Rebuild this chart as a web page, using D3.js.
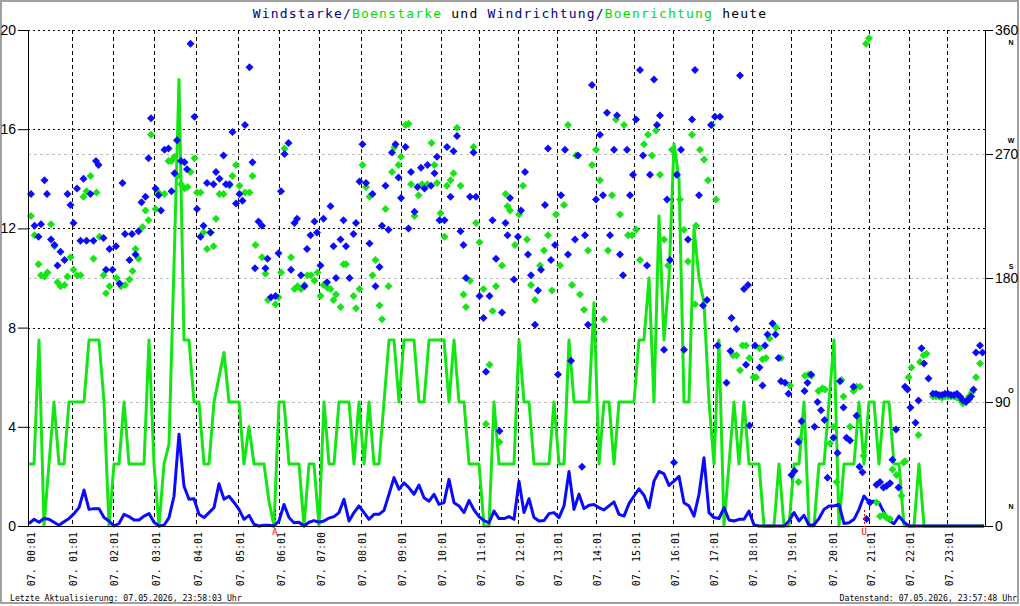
<!DOCTYPE html>
<html>
<head>
<meta charset="utf-8">
<title>Windstarke heute</title>
<script src="https://cdn.jsdelivr.net/npm/d3@7"></script>
<style>
	body { margin: 0; background: #fff; }
</style>
</head>
<body>
<div id="chart"></div>
<script>
// Messwerte: ein Wert je Messpunkt (Index), Richtungen als [Index, Grad]
var windSpeed = [
	0.1,0.27,0.15,0.3,0.27,0.15,0.03,0.17,0.3,0.5,
	0.74,1.45,0.67,0.7,0.7,0.34,0.2,0,0.1,0.47,
	0.38,0.24,0.24,0.4,0.5,0.15,0,0.03,0.34,1.2,
	3.7,1.6,1.08,1.1,0.47,0.34,0.54,0.74,1.7,1.08,
	1.2,0.95,0.67,0.27,0.43,0.07,0,0.03,0.03,0,
	0.2,0.87,0.34,0.13,0.15,0,0.15,0.22,0.15,0.2,
	0.32,0.38,0.54,1.08,0.2,0.54,0.81,0.54,0.27,0.47,
	0.47,0.63,1.28,1.95,1.48,1.74,1.54,1.28,1.65,1.14,
	1.0,1.28,0.87,0.94,1.88,0.94,0.81,0.54,1.03,0.65,
	0.38,0.22,0.13,0.6,0.3,0.3,0.38,0.27,1.8,0.54,
	1.1,0.34,0.2,0.22,0.5,0.54,0.34,0.81,2.2,0.67,
	1.28,0.7,0.84,0.87,0.74,0.65,0.81,0.97,0.47,0.4,
	0.9,1.21,1.5,1.24,0.74,1.81,2.2,2.1,1.64,1.81,
	2.0,0.94,0.81,0.4,1.28,2.75,0.54,0.34,0.3,0.74,
	0.24,0.2,0.27,0.27,0.6,0.04,0,0,0,0,
	0,0,0.2,0.54,0.2,0.43,0.03,0.05,0.3,0.67,
	0.81,0.81,0.87,0.1,0.13,0.27,0.67,1.21,0.97,1.0,
	0.94,0.54,0.22,0.09,0.4,0.15,0,0,0,0,
	0,0,0,0,0,0,0,0,0,0,
	0,0
];

var gustSpeed = [
	2.5,2.5,7.5,0,2.5,5,2.5,2.5,5,5,
	5,5,7.5,7.5,7.5,5,0,2.5,2.5,5,
	2.5,2.5,2.5,2.5,7.5,2.5,0,2.5,3.3,10.5,
	18,7.5,7.5,5,5,2.5,2.5,5,6,7,
	5,5,5,2.5,4,2.5,2.5,2.5,1,0,
	5,5,2.5,2.5,2.5,0,2.5,2.5,0,5,
	2.5,2.5,5,5,5,2.5,5,2.5,5,2.5,
	2.5,5,7.5,7.5,5,7.5,7.5,7.5,5,5,
	7.5,7.5,7.5,7.5,5,7.5,5,5,2.5,2.5,
	2.5,0,0,5,2.5,2.5,2.5,2.5,7.5,5,
	5,2.5,2.5,2.5,2.5,5,2.5,2.5,7.5,5,
	5,5,5,9,2.5,5,5,2.5,5,5,
	5,5,7.5,7.5,10,5,12.5,7.5,10,15.4,
	14,5,5,12,10,9,5,2.5,7.5,0,
	2.5,5,2.5,5,2.5,2.5,2.5,0,0,0,
	2.5,0,0,2.5,2.5,5,0,0,2.5,2.5,
	5,7.5,0,2.5,2.5,2.5,5,2.5,5,5,
	2.5,5,5,2.5,2.5,0,0,0,2.5,0,
	0,0,0,0,0,0,0,0,0,0,
	0,0
];

var windDir = [
	[0.4,241],[1.1,218],[1.9,210],[2.4,219],[3.1,251],[3.6,241],[4.4,208],[5.1,204],[5.7,189],[6.3,199],
	[7.1,193],[7.7,241],[8.3,233],[8.9,220],[9.6,245],[10.3,207],[10.9,252],[11.5,207],[12.3,241],[12.9,207],
	[13.4,265],[13.9,262],[14.9,209],[15.4,186],[16.1,201],[16.7,186],[17.4,203],[18.1,176],[18.7,249],[19.2,212],
	[20.1,193],[20.6,212],[21.3,197],[21.9,214],[22.5,235],[23.3,239],[23.9,267],[24.4,296],[25.3,245],[25.9,240],
	[26.4,229],[27.1,273],[27.9,274],[28.5,243],[29.1,256],[29.6,280],[30.4,265],[31.1,264],[31.6,259],[32.3,350],
	[33.1,297],[33.6,230],[34.3,210],[34.9,218],[35.6,249],[36.3,213],[36.9,248],[37.4,257],[38.1,252],[38.9,269],
	[39.4,248],[40.1,248],[40.7,286],[41.4,234],[42.1,241],[42.7,236],[43.2,291],[44.1,333],[44.7,264],[45.2,187],
	[45.9,221],[46.6,218],[47.3,187],[47.7,194],[48.4,166],[49.3,167],[49.9,198],[50.4,243],[51.1,270],[51.9,278],
	[52.4,186],[53.1,220],[53.6,223],[54.4,182],[55.1,174],[55.6,201],[56.3,211],[57.1,221],[57.6,213],[58.3,189],
	[58.9,223],[59.6,177],[60.3,232],[60.9,203],[61.4,180],[62.3,208],[62.9,222],[63.4,203],[64.1,180],[64.9,212],
	[65.4,220],[66.1,250],[66.7,277],[67.4,249],[68.1,205],[68.7,241],[69.3,174],[70.1,188],[70.6,218],[71.3,247],
	[71.9,215],[72.6,271],[73.3,277],[73.9,253],[74.4,238],[75.3,275],[75.9,216],[76.4,257],[77.1,228],[77.7,246],
	[78.4,260],[79.1,245],[79.7,262],[80.4,247],[81.1,256],[81.6,268],[82.1,222],[83.1,222],[83.6,275],[84.3,239],
	[84.9,272],[85.6,283],[86.3,214],[86.9,204],[87.4,180],[88.2,239],[88.9,271],[89.4,239],[90.1,167],[90.9,151],
	[91.4,112],[92.1,167],[92.7,222],[93.4,194],[94.1,69],[94.6,155],[95.3,220],[95.7,211],
	[96.2,238],[97.0,179],[97.8,210],[98.4,229],[99.2,257],[99.8,197],[100.4,182],[101.2,146],[101.8,171],[102.4,186],
	[103.2,233],[103.8,274],[104.4,193],[105.2,204],[105.8,110],[106.4,240],[107.2,273],[107.8,197],[108.4,120],[109.2,208],
	[109.8,269],[110.6,43],[111.2,211],[111.8,146],[112.6,320],[113.4,237],[114.2,284],[114.8,240],[115.6,300],[116.2,211],
	[117.0,273],[117.6,298],[118.2,197],[118.8,182],[119.6,273],[120.2,240],[120.8,255],[121.4,295],[122.2,331],[122.8,269],
	[123.6,189],[124.2,255],[125.0,324],[125.6,291],[126.2,298],[127.0,128],[127.6,237],[128.2,193],[129.0,46],[129.6,255],
	[130.4,273],[131.0,128],[131.8,208],[132.6,295],[133.2,331],[134.0,240],[134.8,160],[135.6,164],[136.4,291],[137.2,297],
	[137.7,131],[138.2,297],[139.5,104],[140.3,127],[140.5,151],[141.5,143],[142.2,327],[143.0,172],[143.4,117],[143.8,175],
	[144.1,73],[145.2,131],[146.1,115],[146.7,102],[147.2,131],[147.7,139],[148.7,147],[149.3,139],[149.9,122],[150.4,105],
	[151.2,104],[151.9,96],[152.5,37],[153.1,40],[153.9,61],[154.5,76],[155.1,98],[155.7,104],[156.4,110],[157.1,72],
	[157.7,90],[158.4,84],[159.1,77],[159.7,35],[160.9,64],[161.7,53],[162.2,105],[162.9,86],[163.5,64],[164.2,62],
	[164.9,101],[165.5,80],[166.1,43],[166.7,39],[167.5,5],[168.2,17],[169.5,30],[170.2,32],[170.9,28],[171.5,29],
	[172.2,31],[172.7,48],[173.4,70],[173.9,28],[175.2,101],[175.7,99],[176.3,86],[177.3,75],[177.9,91],[178.5,129],
	[179.0,118],[179.9,107],[180.8,96],[181.4,96],[182.0,95],[182.6,95],[183.2,96],[183.8,96],[184.4,95],[185.0,95],
	[185.6,96],[186.2,94],[186.8,91],[187.4,90],[188.0,92],[188.4,94],[188.9,99],[189.4,126],[190.2,131],[190.7,126]
];

var gustDir = [
	[0.4,225],[1.1,211],[1.9,190],[2.4,182],[3.1,181],[3.7,184],[4.4,219],[5.1,203],[5.7,177],[6.3,174],
	[7.1,175],[7.7,181],[8.3,195],[8.9,186],[9.6,182],[10.3,182],[10.9,239],[11.5,243],[12.3,254],[12.9,194],
	[13.5,242],[14.1,210],[14.9,182],[15.4,169],[16.1,174],[17.5,180],[18.4,174],[19.2,175],[20.1,179],[20.7,185],
	[21.3,201],[21.9,194],[22.7,217],[23.3,229],[23.9,222],[24.4,284],[25.3,230],[25.9,242],[27.1,241],[27.9,265],
	[28.5,265],[29.1,268],[29.7,254],[30.4,248],[31.1,245],[31.7,246],[32.3,257],[33.1,267],[33.6,242],[34.3,242],
	[34.9,213],[35.6,201],[36.3,213],[36.9,203],[37.4,223],[38.1,241],[38.9,241],[40.1,247],[40.7,254],[41.4,262],
	[42.1,247],[43.2,242],[44.1,242],[44.7,254],[45.3,204],[46.6,195],[47.3,183],[47.8,164],[49.3,161],[49.9,166],
	[50.4,184],[51.1,274],[52.4,195],[53.1,172],[53.7,174],[54.4,172],[55.1,175],[55.7,182],[56.4,182],[57.1,178],
	[57.7,184],[58.3,167],[58.9,175],[59.7,173],[60.3,172],[60.9,164],[61.4,168],[62.3,159],[62.9,190],[63.4,190],
	[64.9,167],[65.4,158],[66.1,172],[66.7,262],[67.4,246],[68.1,239],[68.7,182],[69.3,193],[70.1,160],[70.6,150],
	[71.3,230],[71.9,174],[72.6,257],[73.1,275],[73.9,262],[74.4,268],[75.3,291],[75.9,292],[76.4,248],[77.1,225],
	[77.9,240],[78.6,248],[79.7,248],[80.5,278],[81.1,262],[81.6,249],[82.3,227],[83.1,210],[83.6,247],[84.3,251],
	[84.9,256],[85.6,289],[86.3,247],[86.9,168],[87.4,159],[88.2,178],[88.9,275],[89.4,220],[90.1,206],[90.9,172],
	[91.4,74],[92.1,117],[92.7,156],[93.4,174],[94.1,61],[94.6,189],[95.3,241],[95.7,232],
	[96.2,229],[97.2,204],[98.0,226],[98.8,247],[99.6,208],[100.4,175],[101.2,164],[102.2,189],[103.0,200],[103.8,211],
	[104.6,171],[105.4,226],[106.2,189],[107.0,233],[107.8,291],[108.6,175],[109.4,269],[110.2,168],[111.0,157],[111.8,200],
	[112.6,262],[113.4,273],[114.2,251],[115.0,150],[115.8,200],[116.6,240],[117.4,295],[118.2,226],[119.0,291],[119.8,211],
	[120.6,211],[121.4,215],[122.2,193],[123.0,277],[123.8,284],[124.6,269],[125.4,287],[126.2,255],[127.0,208],[127.8,189],
	[128.6,273],[129.4,255],[130.2,237],[131.0,215],[131.8,192],[132.6,284],[133.2,161],[133.4,218],[134.2,273],[135.0,266],
	[135.8,251],[136.6,291],[137.4,237],[140.8,124],[141.5,124],[142.2,113],[142.7,131],[143.4,131],[144.1,122],[144.9,108],
	[145.4,108],[146.1,129],[146.7,121],[147.4,122],[148.1,136],[149.4,144],[150.4,122],[152.2,102],[153.9,32],[154.2,63],
	[155.2,109],[155.9,110],[156.5,109],[157.9,98],[158.7,100],[159.2,99],[160.2,60],[160.9,72],[161.5,32],[162.5,106],
	[162.9,94],[164.2,72],[164.9,98],[165.5,101],[166.2,101],[166.9,51],[167.4,350],[168.0,354],[169.5,17],[170.2,7],
	[170.9,8],[171.5,6],[172.2,5],[172.7,41],[173.5,37],[174.5,22],[174.9,46],[175.2,47],[175.9,108],[176.5,115],
	[177.9,66],[178.2,119],[178.9,124],[179.5,125],[180.8,94],[181.4,94],[182.0,94],[182.6,93],[183.2,94],[183.8,94],
	[184.4,94],[185.0,94],[185.6,93],[186.2,92],[186.8,89],[187.4,91],[188.0,94],[188.6,97],[189.4,108],[190.2,118]
];

// Stundenmarken (Messpunkt-Index) und Beschriftung
var hourPos = [0, 8.54, 16.74, 25.06, 33.46, 41.86, 50.06, 58.06, 66.34, 74.34, 82.34, 90.06,
	97.86, 105.54, 113.34, 121.06, 128.86, 136.74, 144.54, 152.34, 160.4, 168.06, 175.94, 183.66];
var hourLabels = ["07. 00:01","07. 01:01","07. 02:01","07. 03:01","07. 04:01","07. 05:01",
	"07. 06:01","07. 07:00","07. 08:01","07. 09:01","07. 10:01","07. 11:01",
	"07. 12:01","07. 13:01","07. 14:01","07. 15:01","07. 16:01","07. 17:01",
	"07. 18:01","07. 19:01","07. 20:01","07. 21:01","07. 22:01","07. 23:01"];

var speedTicks = [0, 4, 8, 12, 16, 20];
var dirTicks = [0, 90, 180, 270, 360];
var dirNames = ["N", "O", "S", "W", "N"];

// Sonnenaufgang / -untergang
var sunPos = [49.2, 167.06];
var sunNames = ["A", "U"];

var titleParts = [["Windstarke","#00008b"],["/","#00008b"],["Boenstarke","#00dd00"],[" und ","#000000"],
	["Windrichtung","#00008b"],["/","#00008b"],["Boenrichtung","#00dd00"],[" heute","#000000"]];

// ---------------------------------------------------------------
var w = 1020, h = 606;
var plotL = 28, plotR = 985, plotT = 30, plotB = 526;
var blue = "#0a0aff", green = "#14e614";
var mono = "'DejaVu Sans Mono', 'Liberation Mono', monospace";
var sans = "'Liberation Sans', Arial, sans-serif";

var svg = d3.select("#chart").append("svg")
	.attr("width", w)
	.attr("height", h);

svg.append("rect")
	.attr("x", 1).attr("y", 1)
	.attr("width", 1017).attr("height", 602)
	.attr("fill", "white")
	.attr("stroke", "#a0a0a0")
	.attr("stroke-width", 2);

var x = d3.scaleLinear().domain([0, windSpeed.length - 1]).range([29, 984]);
var ySpeed = d3.scaleLinear().domain([0, 20]).range([plotB, plotT]);
var yDir = d3.scaleLinear().domain([0, 360]).range([plotB, plotT]);

// Gitter
var grid = svg.append("g");
grid.selectAll(".gdir").data(dirTicks.slice(1, 4)).enter().append("line")
	.attr("x1", plotL).attr("x2", plotR)
	.attr("y1", function(d){ return Math.round(yDir(d)) + 0.5; })
	.attr("y2", function(d){ return Math.round(yDir(d)) + 0.5; })
	.attr("stroke", "#bdbdbd")
	.attr("stroke-dasharray", "3,3");

grid.selectAll(".gspd").data(speedTicks.slice(1)).enter().append("line")
	.attr("x1", plotL).attr("x2", plotR)
	.attr("y1", function(d){ return Math.round(ySpeed(d)) + 0.5; })
	.attr("y2", function(d){ return Math.round(ySpeed(d)) + 0.5; })
	.attr("stroke", "black")
	.attr("stroke-dasharray", "2,3");

grid.selectAll(".ghour").data(hourPos.slice(1)).enter().append("line")
	.attr("x1", function(d){ return Math.round(x(d)) + 0.5; })
	.attr("x2", function(d){ return Math.round(x(d)) + 0.5; })
	.attr("y1", plotT).attr("y2", plotB)
	.attr("stroke", "black")
	.attr("stroke-dasharray", "4,3");

// Linien
var line = d3.line()
	.x(function(d, i){ return x(i); })
	.y(function(d){ return ySpeed(d); });

svg.append("path")
	.datum(gustSpeed)
	.attr("d", line)
	.attr("fill", "none")
	.attr("stroke", green)
	.attr("stroke-width", 3)
	.attr("stroke-linejoin", "round");

svg.append("path")
	.datum(windSpeed)
	.attr("d", line)
	.attr("fill", "none")
	.attr("stroke", blue)
	.attr("stroke-width", 3)
	.attr("stroke-linejoin", "round");

// Richtungen als Rauten
var diamond = "M0,-4L4,0L0,4L-4,0Z";
function drawDiamonds(data, colour) {
	svg.append("g").selectAll("path")
		.data(data)
		.enter()
		.append("path")
		.attr("d", diamond)
		.attr("transform", function(d){ return "translate(" + x(d[0]) + "," + yDir(d[1]) + ")"; })
		.attr("fill", colour);
}
drawDiamonds(gustDir, green);
drawDiamonds(windDir, blue);

// Achsen
var yAxisL = svg.append("g")
	.attr("transform", "translate(" + plotL + ",0)")
	.call(d3.axisLeft(ySpeed).tickValues(speedTicks).tickSize(10).tickSizeOuter(0).tickPadding(2));
var yAxisR = svg.append("g")
	.attr("transform", "translate(" + plotR + ",0)")
	.call(d3.axisRight(yDir).tickValues(dirTicks).tickSize(8).tickSizeOuter(0).tickPadding(2));
[yAxisL, yAxisR].forEach(function(a){
	a.selectAll("text").attr("font-family", sans).attr("font-size", 14).attr("fill", "black");
	a.selectAll("line, path").attr("stroke", "black");
});

svg.append("line")
	.attr("x1", plotL).attr("x2", plotR + 1)
	.attr("y1", plotB + 0.5).attr("y2", plotB + 0.5)
	.attr("stroke", "black");

var xAxis = svg.append("g")
	.attr("transform", "translate(0," + plotB + ")")
	.call(d3.axisBottom(x).tickValues(hourPos)
		.tickFormat(function(d, i){ return hourLabels[i]; })
		.tickSize(0).tickSizeOuter(0));
xAxis.select(".domain").remove();
xAxis.selectAll("text")
	.attr("font-family", mono)
	.attr("font-size", 10)
	.attr("fill", "black")
	.attr("text-anchor", "end")
	.attr("transform", "rotate(-90)")
	.attr("x", -6)
	.attr("y", 1.5)
	.attr("dy", "0.35em");

// Himmelsrichtungen am rechten Rand
var nameOffset = [-17, -9, -9, -11, 15];
svg.selectAll(".dirname").data(dirNames).enter().append("text")
	.attr("x", 1011)
	.attr("y", function(d, i){ return yDir(dirTicks[i]) + nameOffset[i]; })
	.attr("font-family", sans)
	.attr("font-size", 7)
	.attr("font-weight", "bold")
	.attr("text-anchor", "middle")
	.text(function(d){ return d; });

// Sonnenauf- und -untergang
sunPos.forEach(function(p, i){
	svg.append("line")
		.attr("x1", Math.round(x(p)) + 0.5).attr("x2", Math.round(x(p)) + 0.5)
		.attr("y1", plotB - 16).attr("y2", plotB + 1)
		.attr("stroke", "red")
		.attr("stroke-dasharray", "2,2");
	svg.append("text")
		.attr("x", x(p))
		.attr("y", 535)
		.attr("font-family", mono)
		.attr("font-size", 9)
		.attr("fill", "red")
		.attr("text-anchor", "middle")
		.text(sunNames[i]);
});

// Titel
var title = svg.append("text")
	.attr("x", 510)
	.attr("y", 18)
	.attr("text-anchor", "middle")
	.attr("font-family", mono)
	.attr("font-size", 13)
	.attr("letter-spacing", 1.2)
	.style("white-space", "pre");
title.selectAll("tspan").data(titleParts).enter().append("tspan")
	.attr("fill", function(d){ return d[1]; })
	.text(function(d){ return d[0]; });

// Fusszeile
svg.append("text")
	.attr("x", 10).attr("y", 601)
	.attr("font-family", mono).attr("font-size", 8.2)
	.text("Letzte Aktualisierung: 07.05.2026, 23:58:03 Uhr");
svg.append("text")
	.attr("x", 1017).attr("y", 601)
	.attr("text-anchor", "end")
	.attr("font-family", mono).attr("font-size", 8.2)
	.text("Datenstand: 07.05.2026, 23:57:48 Uhr");
</script>
</body>
</html>
